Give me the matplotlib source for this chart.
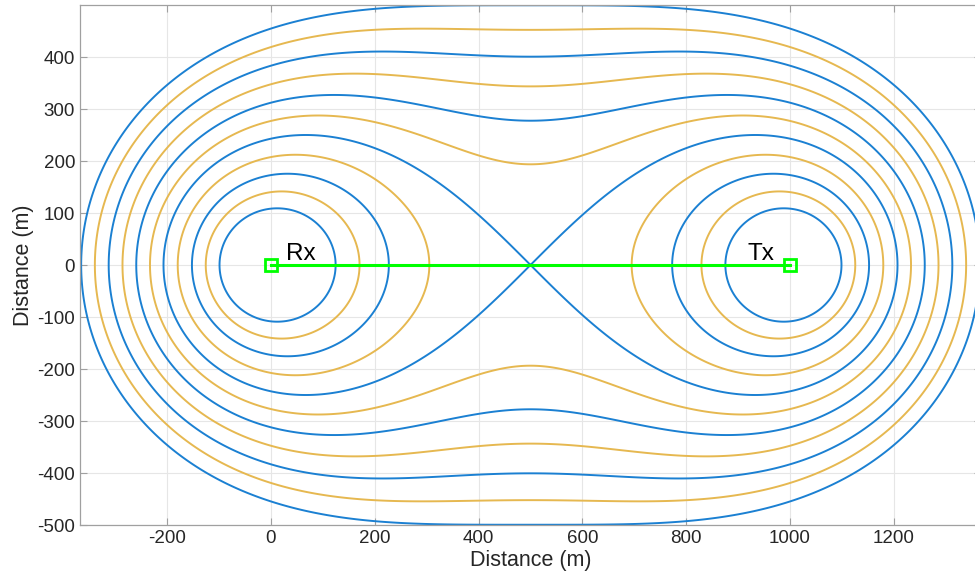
import numpy as np
import matplotlib
matplotlib.use("Agg")
import matplotlib.pyplot as plt

# ---- data ----
rx_pos = (0.0, 0.0)
tx_pos = (1000.0, 0.0)
# contour levels of range product R_rx * R_tx (m^2)
levels = [109000, 141500, 175500, 212000, 250000, 287500, 327000,
          368000, 410500, 454500, 499500]
blue = '#1B80D2'
yellow = '#E6B850'
level_colors = [blue, yellow, blue, yellow, blue, yellow, blue,
                yellow, blue, yellow, blue]
xticks = [-200, 0, 200, 400, 600, 800, 1000, 1200]
yticks = [-500, -400, -300, -200, -100, 0, 100, 200, 300, 400]
xlim = (-368, 1368)
ylim = (-500, 500)
labels = ['Rx', 'Tx']
label_pos = [(28, 10), (919, 10)]

plt.rcParams['font.family'] = ['Liberation Sans', 'DejaVu Sans']
plt.rcParams['axes.unicode_minus'] = False

fig = plt.figure(figsize=(9.75, 5.88), dpi=100)
ax = fig.add_axes([80/975, 63/588, 901/975, 520/588])

gx = np.linspace(-420, 1420, 1841)
gy = np.linspace(-540, 540, 1081)
X, Y = np.meshgrid(gx, gy)
Z = np.hypot(X - rx_pos[0], Y - rx_pos[1]) * np.hypot(X - tx_pos[0], Y - tx_pos[1])
ax.contour(X, Y, Z, levels=levels, colors=level_colors, linewidths=1.4)

ax.plot([rx_pos[0], tx_pos[0]], [rx_pos[1], tx_pos[1]], color='#00FF00',
        lw=2.2, marker='s', markersize=9, markerfacecolor='none',
        markeredgecolor='#00FF00', markeredgewidth=2.0, zorder=5)

for lab, (lx, ly) in zip(labels, label_pos):
    ax.text(lx, ly, lab, fontsize=17.5, ha='left', va='baseline', color='black')

ax.set_xlim(*xlim)
ax.set_ylim(*ylim)
ax.set_xticks(xticks)
ax.set_yticks(yticks)
ax.tick_params(direction='in', length=5, width=0.8, colors='#A0A0A0',
               labelcolor='#262626', labelsize=13.5, top=True, right=True)
for s in ax.spines.values():
    s.set_color('#A0A0A0')
    s.set_linewidth(0.9)
ax.grid(True, color='#E6E6E6', linewidth=0.8)
ax.set_axisbelow(True)
ax.set_xlabel('Distance (m)', fontsize=15.5, color='#262626', labelpad=2)
ax.set_ylabel('Distance (m)', fontsize=15.5, color='#262626', labelpad=2)

fig.savefig('out.png', dpi=100)
